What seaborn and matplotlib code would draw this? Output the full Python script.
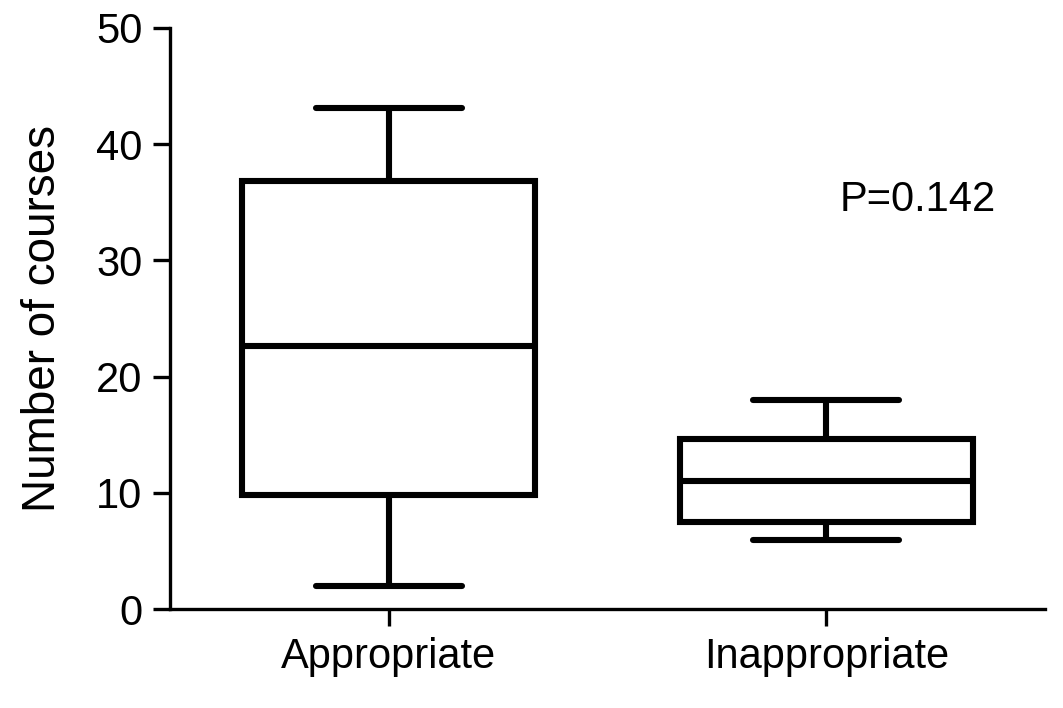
import pandas as pd
import numpy as np
import seaborn as sns
import matplotlib
matplotlib.use('Agg')
import matplotlib.pyplot as plt

# five-number summaries (min, Q1, median, Q3, max)
groups = ['Appropriate', 'Inappropriate']
appropriate = [2.0, 9.8, 22.6, 36.8, 43.1]
inappropriate = [5.9, 7.5, 11.0, 14.6, 18.0]
p_text = 'P=0.142'


def main():
    df = pd.DataFrame({
        'group': [groups[0]] * len(appropriate) + [groups[1]] * len(inappropriate),
        'value': appropriate + inappropriate,
    })

    sns.set_style('ticks')
    plt.rcParams['font.family'] = ['Liberation Sans', 'DejaVu Sans']
    plt.rcParams['text.color'] = 'black'
    plt.rcParams['axes.labelcolor'] = 'black'
    plt.rcParams['xtick.color'] = 'black'
    plt.rcParams['ytick.color'] = 'black'

    fig = plt.figure(figsize=(10.63, 7.08), dpi=100)
    ax = fig.add_axes([0.16, 0.1398, 0.823, 0.8207])

    sns.boxplot(data=df, x='group', y='value', order=groups, whis=(0, 100),
                width=0.67, color='white', linecolor='black', linewidth=4.4,
                showfliers=False, ax=ax)

    ax.set_xlim(-0.5, 1.5)
    ax.set_ylim(0, 50)
    ax.set_yticks([0, 10, 20, 30, 40, 50])
    ax.set_xlabel('')
    ax.set_ylabel('Number of courses', fontsize=33, labelpad=22)
    ax.tick_params(axis='both', labelsize=30, length=12, width=2.4,
                   direction='out', colors='black', pad=8)
    for side in ['left', 'bottom']:
        ax.spines[side].set_linewidth(2.4)
        ax.spines[side].set_color('black')
    sns.despine(ax=ax)

    ax.text(1.21, 35.2, p_text, fontsize=30, ha='center', va='center')

    fig.savefig('out.png', dpi=100)


if __name__ == '__main__':
    main()
